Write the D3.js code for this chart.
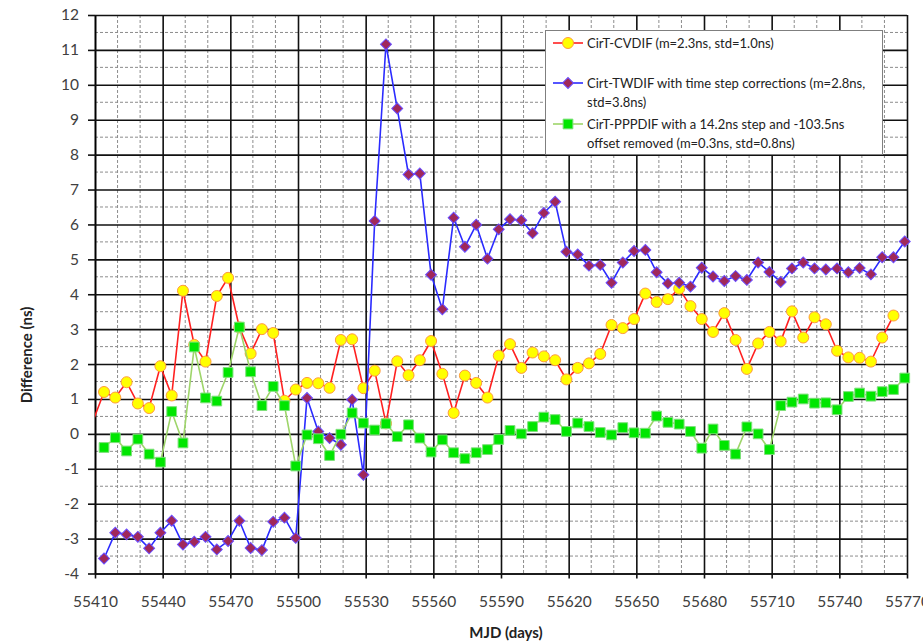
<!DOCTYPE html>
<html>
<head>
<meta charset="utf-8">
<script src="https://cdn.jsdelivr.net/npm/d3@7"></script>
<style>
	body { margin: 0; background: #fff; }
	svg text { font-family: Lato, "Open Sans", sans-serif; }
</style>
</head>
<body>
<div id="chart"></div>
<script>
/*
Data (MJD every 5 days, values in ns)
*/
const days = [
	55409, 55414, 55419, 55424, 55429, 55434, 55439, 55444, 55449, 55454,
	55459, 55464, 55469, 55474, 55479, 55484, 55489, 55494, 55499, 55504,
	55509, 55514, 55519, 55524, 55529, 55534, 55539, 55544, 55549, 55554,
	55559, 55564, 55569, 55574, 55579, 55584, 55589, 55594, 55599, 55604,
	55609, 55614, 55619, 55624, 55629, 55634, 55639, 55644, 55649, 55654,
	55659, 55664, 55669, 55674, 55679, 55684, 55689, 55694, 55699, 55704,
	55709, 55714, 55719, 55724, 55729, 55734, 55739, 55744, 55749, 55754,
	55759, 55764, 55769
];
const cvdif = [
	0.35,
	1.20, 1.04, 1.48, 0.87, 0.74, 1.94, 1.10, 4.10, 2.55, 2.07,
	3.95, 4.47, 3.05, 2.30, 3.00, 2.89, 0.95, 1.27, 1.46, 1.45,
	1.32, 2.69, 2.71, 1.31, 1.81, 0.30, 2.08, 1.68, 2.11, 2.66,
	1.72, 0.60, 1.67, 1.46, 1.04, 2.24, 2.57, 1.89, 2.33, 2.22,
	2.11, 1.56, 1.89, 2.02, 2.29, 3.12, 3.03, 3.29, 4.02, 3.78,
	3.86, 4.16, 3.66, 3.29, 2.92, 3.46, 2.69, 1.86, 2.59, 2.92,
	2.65, 3.51, 2.76, 3.34, 3.14, 2.38, 2.19, 2.18, 2.07, 2.76,
	3.39, null
];
const twdif = [
	null,
	-3.57, -2.83, -2.88, -2.95, -3.28, -2.83, -2.49, -3.17, -3.09, -2.95,
	-3.31, -3.07, -2.49, -3.27, -3.33, -2.52, -2.40, -2.98, 1.03, 0.07,
	-0.12, -0.31, 0.98, -1.17, 6.10, 11.16, 9.32, 7.43, 7.46, 4.56,
	3.57, 6.19, 5.36, 5.99, 5.02, 5.86, 6.15, 6.12, 5.75, 6.33,
	6.65, 5.22, 5.14, 4.82, 4.84, 4.33, 4.91, 5.24, 5.27, 4.63,
	4.31, 4.33, 4.22, 4.76, 4.51, 4.38, 4.52, 4.41, 4.91, 4.64,
	4.35, 4.74, 4.91, 4.74, 4.71, 4.74, 4.63, 4.75, 4.57, 5.06,
	5.06, 5.51
];
const pppdif = [
	null,
	-0.39, -0.11, -0.49, -0.15, -0.58, -0.81, 0.64, -0.26, 2.49, 1.03,
	0.94, 1.76, 3.06, 1.78, 0.81, 1.36, 0.81, -0.92, -0.03, -0.14,
	-0.62, -0.01, 0.60, 0.31, 0.11, 0.29, -0.08, 0.26, -0.12, -0.52,
	-0.17, -0.54, -0.71, -0.54, -0.45, -0.16, 0.10, 0.00, 0.21, 0.48,
	0.41, 0.07, 0.31, 0.21, 0.04, -0.03, 0.18, 0.03, 0.02, 0.51,
	0.33, 0.28, 0.07, -0.41, 0.14, -0.33, -0.58, 0.20, 0.00, -0.45,
	0.81, 0.91, 1.00, 0.88, 0.89, 0.69, 1.07, 1.17, 1.08, 1.21,
	1.27, 1.60
];
const xTicks = [55410, 55440, 55470, 55500, 55530, 55560, 55590, 55620, 55650, 55680, 55710, 55740, 55770];
const yTicks = [-4, -3, -2, -1, 0, 1, 2, 3, 4, 5, 6, 7, 8, 9, 10, 11, 12];
const legendLines = [
	["CirT-CVDIF (m=2.3ns, std=1.0ns)"],
	["Cirt-TWDIF with time step corrections (m=2.8ns,", "std=3.8ns)"],
	["CirT-PPPDIF with a 14.2ns step and -103.5ns", "offset removed (m=0.3ns, std=0.8ns)"]
];

const width = 923;
const height = 641;
const plot = { left: 95, right: 907, top: 15, bottom: 573.5 };

const svg = d3.select("#chart")
	.append("svg")
	.attr("width", width)
	.attr("height", height);

const x = d3.scaleLinear().domain([55410, 55770]).range([plot.left, plot.right]);
const y = d3.scaleLinear().domain([-4, 12]).range([plot.bottom, plot.top]);

svg.append("clipPath")
	.attr("id", "plot-clip")
	.append("rect")
	.attr("x", plot.left)
	.attr("y", plot.top)
	.attr("width", plot.right - plot.left)
	.attr("height", plot.bottom - plot.top);

/*
Grid: dashed minor lines, then solid major lines
*/
const minorX = d3.range(55410, 55771, 10).filter((d) => (d - 55410) % 30 != 0);
const minorY = d3.range(-3.5, 12, 1);
const grid = svg.append("g");
grid.selectAll(".minor-x")
	.data(minorX)
	.enter()
	.append("line")
	.attr("x1", (d) => x(d)).attr("x2", (d) => x(d))
	.attr("y1", plot.top).attr("y2", plot.bottom)
	.attr("stroke", "#8c8c8c")
	.attr("stroke-width", 1)
	.attr("stroke-dasharray", "3,2");
grid.selectAll(".minor-y")
	.data(minorY)
	.enter()
	.append("line")
	.attr("x1", plot.left).attr("x2", plot.right)
	.attr("y1", (d) => y(d)).attr("y2", (d) => y(d))
	.attr("stroke", "#8c8c8c")
	.attr("stroke-width", 1)
	.attr("stroke-dasharray", "3,2");

const xAxis = svg.append("g")
	.attr("transform", `translate(0,${plot.bottom})`)
	.call(d3.axisBottom(x).tickValues(xTicks).tickFormat((d) => String(d))
		.tickSizeInner(-(plot.bottom - plot.top)).tickSizeOuter(0).tickPadding(22));
const yAxis = svg.append("g")
	.attr("transform", `translate(${plot.left},0)`)
	.call(d3.axisLeft(y).tickValues(yTicks).tickFormat((d) => String(d))
		.tickSizeInner(-(plot.right - plot.left)).tickSizeOuter(0).tickPadding(16));
[xAxis, yAxis].forEach((ax) => {
	ax.select(".domain").attr("stroke", "#000").attr("stroke-width", 1.6);
	ax.selectAll(".tick line").attr("stroke", "#111").attr("stroke-width", 1.6);
	ax.selectAll(".tick text")
		.attr("fill", "#404040")
		.style("font-size", "15.5px");
});
// short outside tick marks
xAxis.selectAll(".tick").append("line")
	.attr("y1", 0).attr("y2", 5)
	.attr("stroke", "#111").attr("stroke-width", 1.6);
yAxis.selectAll(".tick").append("line")
	.attr("x1", 0).attr("x2", -7)
	.attr("stroke", "#111").attr("stroke-width", 1.6);

/*
Series
*/
const series = [
	{ values: cvdif, line: "#ff2020", fill: "#ffff00", stroke: "#ff9a3c", shape: d3.symbolCircle, size: 95, rot: 0 },
	{ values: twdif, line: "#2b2bff", fill: "#a0285a", stroke: "#6a4cff", shape: d3.symbolSquare, size: 60, rot: 45 },
	{ values: pppdif, line: "#9ed56a", fill: "#00e600", stroke: "#7ee07a", shape: d3.symbolSquare, size: 95, rot: 0 }
];
const lineGen = d3.line()
	.defined((d) => d[1] != null)
	.x((d) => x(d[0]))
	.y((d) => y(d[1]));

series.forEach((s) => {
	const pts = days.map((d, i) => [d, s.values[i]]);
	const g = svg.append("g");
	g.append("path")
		.datum(pts)
		.attr("clip-path", "url(#plot-clip)")
		.attr("fill", "none")
		.attr("stroke", s.line)
		.attr("stroke-width", 1.6)
		.attr("d", lineGen);
	g.selectAll("path.mark")
		.data(pts.filter((d) => d[1] != null && d[0] >= 55410))
		.enter()
		.append("path")
		.attr("class", "mark")
		.attr("transform", (d) => `translate(${x(d[0])},${y(d[1])}) rotate(${s.rot})`)
		.attr("d", d3.symbol().type(s.shape).size(s.size))
		.attr("fill", s.fill)
		.attr("stroke", s.stroke)
		.attr("stroke-width", 1);
});

/*
Legend
*/
const legend = svg.append("g");
legend.append("rect")
	.attr("x", 545.5).attr("y", 30.5)
	.attr("width", 337).attr("height", 124)
	.attr("fill", "#fff")
	.attr("stroke", "#7f7f7f");
const rowY = [43, 83, 124];
legendLines.forEach((lines, i) => {
	const s = series[i];
	legend.append("line")
		.attr("x1", 553).attr("x2", 583)
		.attr("y1", rowY[i]).attr("y2", rowY[i])
		.attr("stroke", s.line).attr("stroke-width", 1.6);
	legend.append("path")
		.attr("transform", `translate(568,${rowY[i]}) rotate(${s.rot})`)
		.attr("d", d3.symbol().type(s.shape).size(s.size))
		.attr("fill", s.fill)
		.attr("stroke", s.stroke);
	lines.forEach((t, j) => {
		legend.append("text")
			.attr("x", 587)
			.attr("y", rowY[i] + j * 19)
			.attr("dy", "0.35em")
			.attr("fill", "#222")
			.style("font-size", "13px")
			.text(t);
	});
});

/*
Axis titles
*/
svg.append("text")
	.attr("x", 506)
	.attr("y", 633)
	.attr("dy", "0.35em")
	.attr("text-anchor", "middle")
	.attr("font-weight", "bold")
	.attr("fill", "#222")
	.style("font-size", "15px")
	.text("MJD (days)");
svg.append("text")
	.attr("transform", "translate(27,355) rotate(-90)")
	.attr("dy", "0.35em")
	.attr("text-anchor", "middle")
	.attr("font-weight", "bold")
	.attr("fill", "#222")
	.style("font-size", "15px")
	.text("Difference (ns)");
</script>
</body>
</html>
